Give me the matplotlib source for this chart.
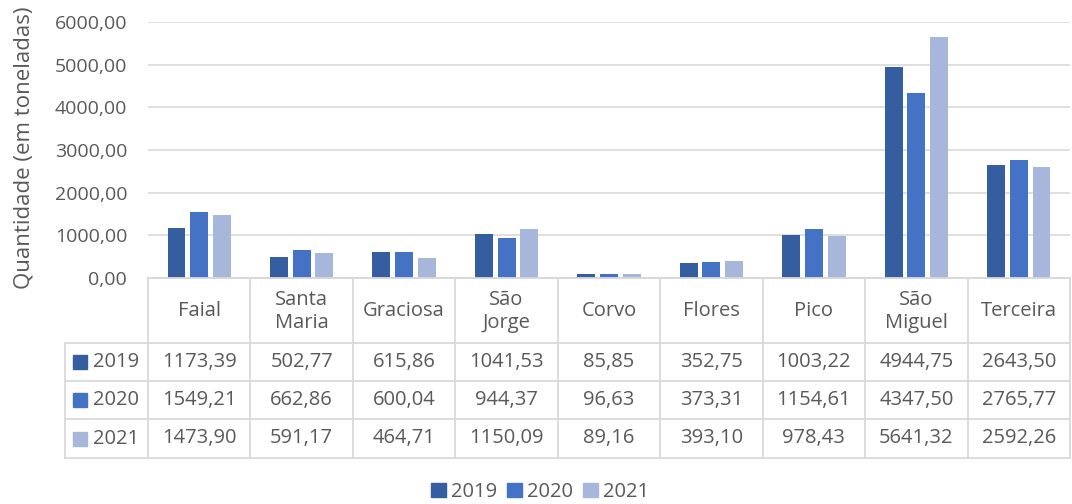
import matplotlib
matplotlib.use("Agg")
import matplotlib.pyplot as plt
from matplotlib.lines import Line2D
from matplotlib.patches import Rectangle
import numpy as np

# ---- data ----
islands = ["Faial", "Santa\nMaria", "Graciosa", "São\nJorge", "Corvo",
           "Flores", "Pico", "São\nMiguel", "Terceira"]
years = ["2019", "2020", "2021"]
v2019 = [1173.39, 502.77, 615.86, 1041.53, 85.85, 352.75, 1003.22, 4944.75, 2643.50]
v2020 = [1549.21, 662.86, 600.04, 944.37, 96.63, 373.31, 1154.61, 4347.50, 2765.77]
v2021 = [1473.90, 591.17, 464.71, 1150.09, 89.16, 393.10, 978.43, 5641.32, 2592.26]
series = [v2019, v2020, v2021]
colors = ["#355EA0", "#4472C4", "#A7B6DB"]

plt.rcParams["font.family"] = ["Open Sans", "DejaVu Sans"]
TXT = "#595959"
GRID = "#D9D9D9"
FS = 14.5

def fmt(v):
    return f"{v:.2f}".replace(".", ",")

W, H = 1072, 504
fig = plt.figure(figsize=(W / 100, H / 100), dpi=100)

# plot area in pixels
x0, x1 = 148, 1070
ytop, ybot = 22, 278
ax = fig.add_axes([x0 / W, 1 - ybot / H, (x1 - x0) / W, (ybot - ytop) / H])

n = len(islands)
idx = np.arange(n)
bw = 0.175
offs = [-0.222, 0, 0.222]
for s, vals, c, off in zip(years, series, colors, offs):
    ax.bar(idx + off, vals, width=bw, color=c, label=s, zorder=3)

ax.set_xlim(-0.5, n - 0.5)
ax.set_ylim(0, 6000)
ax.set_yticks(np.arange(0, 6001, 1000))
ax.set_yticklabels([fmt(t) for t in np.arange(0, 6001, 1000)], color=TXT, fontsize=14)
ax.tick_params(axis="y", length=0, pad=15)
ax.set_xticks([])
ax.yaxis.grid(True, color=GRID, linewidth=1.2, zorder=0)
for sp in ["top", "right", "left"]:
    ax.spines[sp].set_visible(False)
ax.spines["bottom"].set_color(GRID)
ax.spines["bottom"].set_linewidth(1.2)
ax.set_ylabel("Quantidade (em toneladas)", color=TXT, fontsize=16)
ax.yaxis.set_label_coords(-0.123, 0.51)

# ---- data table drawn below the plot ----
def fx(px):
    return px / W

def fy(py):
    return 1 - py / H

colw = (x1 - x0) / n
xleft = 65
rows_y = [278, 343, 381, 419, 458]  # header top, row tops, bottom
lkw = dict(color=GRID, linewidth=1.3, transform=fig.transFigure)

# horizontal lines
fig.add_artist(Line2D([fx(x0), fx(x1)], [fy(rows_y[0])] * 2, **lkw))
for yy in rows_y[1:]:
    fig.add_artist(Line2D([fx(xleft), fx(x1)], [fy(yy)] * 2, **lkw))
# vertical lines
for i in range(n + 1):
    xx = x0 + i * colw
    fig.add_artist(Line2D([fx(xx)] * 2, [fy(rows_y[0]), fy(rows_y[-1])], **lkw))
fig.add_artist(Line2D([fx(xleft)] * 2, [fy(rows_y[1]), fy(rows_y[-1])], **lkw))

# header
for i, name in enumerate(islands):
    xc = x0 + (i + 0.5) * colw
    fig.text(fx(xc), fy((rows_y[0] + rows_y[1]) / 2 + 1), name, ha="center", va="center",
             color=TXT, fontsize=FS, linespacing=1.2)

# rows
for r, (yr, vals, c) in enumerate(zip(years, series, colors)):
    yc = (rows_y[r + 1] + rows_y[r + 2]) / 2
    fig.add_artist(Rectangle((fx(73), fy(yc + 7)), 14 / W, 14 / H, color=c,
                             transform=fig.transFigure))
    fig.text(fx(93), fy(yc), yr, ha="left", va="center", color=TXT, fontsize=FS)
    for i, v in enumerate(vals):
        xc = x0 + (i + 0.5) * colw
        fig.text(fx(xc), fy(yc), fmt(v), ha="center", va="center", color=TXT, fontsize=FS)

# ---- legend ----
handles = [Rectangle((0, 0), 1, 1, color=c) for c in colors]
fig.legend(handles, years, loc="center", bbox_to_anchor=(fx(540), fy(492)), ncol=3,
           frameon=False, fontsize=FS, handlelength=0.75, handleheight=0.75,
           handletextpad=0.25, columnspacing=0.5, labelcolor=TXT)

fig.savefig("out.png", dpi=100)
